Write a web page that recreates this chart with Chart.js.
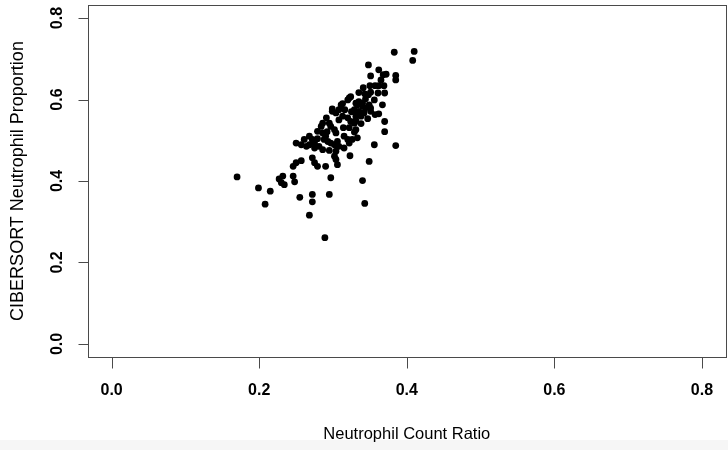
<!DOCTYPE html>
<html>
<head>
<meta charset="utf-8">
<script src="https://cdn.jsdelivr.net/npm/chart.js@4/dist/chart.umd.min.js"></script>
<style>
  html, body { margin: 0; padding: 0; overflow: hidden; }
  body { background: linear-gradient(#ffffff 440px, #f6f6f6 440px); width: 728px; height: 450px; }
  canvas { display: block; }
</style>
</head>
<body>
<canvas id="scatter" width="729" height="450"></canvas>
<script>
// values
const neutrophilRatio = [
    0.383, 0.410, 0.408, 0.348, 0.362, 0.372, 0.368, 0.351, 0.385, 0.385,
    0.365, 0.350, 0.362, 0.369, 0.335, 0.351, 0.348, 0.361, 0.370, 0.322,
    0.320, 0.344, 0.313, 0.311, 0.335, 0.333, 0.340, 0.344, 0.349, 0.351,
    0.367, 0.299, 0.362, 0.370, 0.370, 0.347, 0.329, 0.333, 0.326, 0.356,
    0.385, 0.331, 0.340, 0.329, 0.335, 0.342, 0.331, 0.338, 0.351, 0.349,
    0.340, 0.343, 0.324, 0.299, 0.304, 0.308, 0.313, 0.320, 0.324, 0.329,
    0.286, 0.284, 0.295, 0.297, 0.302, 0.304, 0.279, 0.286, 0.290, 0.288,
    0.293, 0.297, 0.302, 0.306, 0.308, 0.315, 0.320, 0.331, 0.261, 0.268,
    0.272, 0.275, 0.250, 0.257, 0.264, 0.268, 0.275, 0.281, 0.315, 0.322,
    0.286, 0.295, 0.304, 0.302, 0.304, 0.323, 0.250, 0.257, 0.246, 0.272,
    0.275, 0.279, 0.290, 0.306, 0.246, 0.248, 0.297, 0.255, 0.272, 0.295,
    0.170, 0.227, 0.232, 0.230, 0.234, 0.199, 0.215, 0.208, 0.272, 0.268,
    0.289, 0.325, 0.316, 0.331, 0.338, 0.343, 0.356, 0.308, 0.291, 0.357,
    0.341, 0.279, 0.292, 0.314, 0.322, 0.357
];
const cibersortProp = [
    0.716, 0.718, 0.696, 0.685, 0.673, 0.662, 0.661, 0.658, 0.659, 0.648,
    0.648, 0.634, 0.634, 0.634, 0.617, 0.618, 0.612, 0.616, 0.616, 0.604,
    0.599, 0.601, 0.590, 0.587, 0.595, 0.587, 0.583, 0.579, 0.587, 0.579,
    0.587, 0.577, 0.565, 0.546, 0.521, 0.553, 0.520, 0.506, 0.502, 0.489,
    0.487, 0.591, 0.591, 0.575, 0.571, 0.567, 0.559, 0.559, 0.571, 0.448,
    0.401, 0.345, 0.607, 0.571, 0.567, 0.575, 0.559, 0.555, 0.546, 0.542,
    0.542, 0.534, 0.542, 0.534, 0.526, 0.518, 0.522, 0.518, 0.510, 0.502,
    0.497, 0.493, 0.489, 0.497, 0.485, 0.510, 0.502, 0.526, 0.502, 0.510,
    0.502, 0.493, 0.493, 0.489, 0.485, 0.489, 0.481, 0.485, 0.481, 0.493,
    0.477, 0.475, 0.473, 0.461, 0.453, 0.462, 0.445, 0.450, 0.436, 0.457,
    0.445, 0.436, 0.436, 0.440, 0.412, 0.398, 0.408, 0.360, 0.367, 0.367,
    0.410, 0.405, 0.412, 0.396, 0.391, 0.383, 0.375, 0.343, 0.349, 0.316,
    0.261, 0.570, 0.575, 0.548, 0.541, 0.614, 0.599, 0.550, 0.555, 0.634,
    0.629, 0.504, 0.521, 0.531, 0.531, 0.563
];
const xTicks = [0.0, 0.2, 0.4, 0.6, 0.8];
const yTicks = [0.0, 0.2, 0.4, 0.6, 0.8];

const points = neutrophilRatio.map((v, i) => ({ x: v, y: cibersortProp[i] }));
const fontFamily = "'Liberation Sans', Arial, Helvetica, sans-serif";

// R style box with outward tick marks
const rAxes = {
    id: 'rAxes',
    afterDraw(chart) {
        const { ctx, chartArea: a, scales: { x, y } } = chart;
        const left = Math.round(a.left) + 0.5;
        const bottom = Math.round(a.bottom) + 0.5;
        ctx.save();
        ctx.strokeStyle = '#4a4a4a';
        ctx.lineWidth = 1;
        ctx.strokeRect(left, Math.round(a.top) + 0.5,
            Math.round(a.right - a.left), Math.round(a.bottom - a.top));

        ctx.beginPath();
        xTicks.forEach(v => {
            const px = Math.round(x.getPixelForValue(v)) + 0.5;
            ctx.moveTo(px, bottom);
            ctx.lineTo(px, bottom + 11);
        });
        yTicks.forEach(v => {
            const py = Math.round(y.getPixelForValue(v)) + 0.5;
            ctx.moveTo(left, py);
            ctx.lineTo(left - 10, py);
        });
        ctx.stroke();
        ctx.restore();
    }
};

new Chart(document.getElementById('scatter'), {
    type: 'scatter',
    data: {
        datasets: [{
            data: points,
            backgroundColor: '#000',
            borderColor: '#000',
            borderWidth: 0,
            pointRadius: 3.4,
            pointHoverRadius: 3.4
        }]
    },
    options: {
        responsive: false,
        animation: false,
        layout: { padding: { top: 5, right: 0, bottom: 0, left: 0 } },
        plugins: { legend: { display: false }, tooltip: { enabled: false } },
        scales: {
            x: {
                type: 'linear',
                position: 'bottom',
                min: -0.032,
                max: 0.832,
                afterFit: s => {
                    s.height = 93;
                    s.paddingLeft = 0;
                    s.paddingRight = 0;
                },
                afterBuildTicks: s => { s.ticks = xTicks.map(v => ({ value: v })); },
                grid: { display: false, drawTicks: false },
                border: { display: false },
                ticks: {
                    color: '#000',
                    padding: 24,
                    maxRotation: 0,
                    font: { family: fontFamily, size: 16, weight: 'bold' },
                    callback: v => v.toFixed(1)
                },
                title: {
                    display: true,
                    text: 'Neutrophil Count Ratio',
                    color: '#000',
                    font: { family: fontFamily, size: 16.5 },
                    padding: { top: 0, bottom: 6 }
                }
            },
            y: {
                type: 'linear',
                min: -0.032,
                max: 0.832,
                afterFit: s => {
                    s.width = 88;
                    s.paddingTop = 0;
                    s.paddingBottom = 0;
                },
                afterBuildTicks: s => { s.ticks = yTicks.map(v => ({ value: v })); },
                grid: { display: false, drawTicks: false },
                border: { display: false },
                ticks: {
                    color: '#000',
                    padding: 19,
                    minRotation: 90,
                    maxRotation: 90,
                    crossAlign: 'center',
                    font: { family: fontFamily, size: 16, weight: 'bold' },
                    callback: v => v.toFixed(1)
                },
                title: {
                    display: true,
                    text: 'CIBERSORT Neutrophil Proportion',
                    color: '#000',
                    font: { family: fontFamily, size: 18 },
                    padding: { top: 7, bottom: 0 }
                }
            }
        }
    },
    plugins: [rAxes]
});
</script>
</body>
</html>
